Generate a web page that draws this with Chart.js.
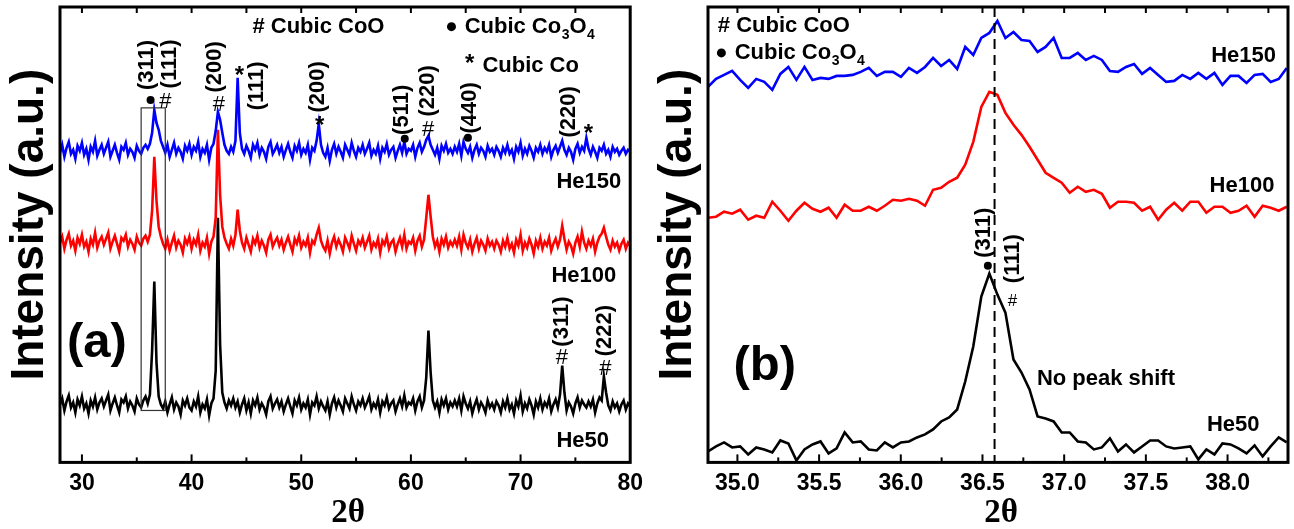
<!DOCTYPE html>
<html>
<head>
<meta charset="utf-8">
<script src="https://cdn.jsdelivr.net/npm/chart.js@4.4.0/dist/chart.umd.min.js"></script>
<style>
  body { margin: 0; background: #fff; width: 1294px; height: 529px; position: relative; overflow: hidden; }
  canvas { position: absolute; top: 0; }
  #chartA { left: 0; }
  #chartB { left: 650px; }
</style>
</head>
<body>
<canvas id="chartA" width="650" height="529"></canvas>
<canvas id="chartB" width="644" height="529"></canvas>
<script>
const FONT = "'Liberation Sans', Arial, sans-serif";

// ---- panel (a): 2theta 28..80, sampled every 0.2 deg (stacked, arbitrary units)
const startA = 28.0, stepA = 0.2;
const he150A = [
  310,318,306,315,321,309,313,304,317,312,320,308,314,303,316,311,322,307,313,318,
  309,315,321,306,312,318,310,303,316,313,320,308,314,311,305,317,312,309,315,318,
  314,319,330,353,340,333,322,316,310,318,306,313,320,309,315,311,304,317,312,319,
  308,316,312,321,306,314,310,318,303,315,319,332,351,343,330,318,312,309,316,311,
  322,385,330,314,309,317,312,305,318,313,320,308,315,311,304,316,321,309,313,318,
  310,316,306,313,319,311,305,317,312,320,308,314,310,318,303,315,312,322,339,318,
  310,306,315,302,313,319,309,316,311,305,318,313,308,320,312,306,315,311,318,309,
  314,320,307,313,309,317,304,315,311,319,308,313,316,305,312,318,310,321,309,314,
  312,318,306,315,320,311,316,323,327,318,313,308,315,304,317,312,319,310,314,309,
  316,311,319,307,321,314,310,316,305,313,318,309,315,312,306,317,311,314,308,316,
  312,306,315,310,318,309,313,304,316,311,320,307,314,309,317,312,305,315,311,318,
  309,315,311,318,306,313,317,310,316,322,313,308,315,311,303,314,319,310,316,312,
  325,314,308,316,311,305,315,312,318,309,313,306,316,311,314,308,312,315,309,313,
  311
];
const he100A = [
  220,226,214,223,229,217,222,212,225,219,228,216,221,211,224,218,230,215,222,226,
  218,224,230,214,221,227,219,211,225,222,228,216,223,219,213,226,220,217,224,227,
  221,228,252,306,262,236,226,219,214,223,212,220,227,215,222,218,210,224,219,226,
  214,223,218,228,212,220,216,225,209,221,226,245,333,268,236,225,219,214,224,217,
  228,253,232,220,214,225,218,211,224,219,227,215,222,217,210,223,228,216,221,225,
  217,223,213,220,226,218,211,224,219,227,215,221,217,225,210,222,219,228,235,222,
  216,212,222,209,220,226,216,223,218,211,225,220,214,227,219,212,222,218,225,215,
  221,227,213,220,216,224,210,222,218,226,214,220,223,211,219,225,216,228,214,221,
  219,225,212,222,227,216,223,245,268,246,226,216,222,211,224,218,226,215,221,217,
  223,217,226,213,228,220,215,223,211,219,225,214,222,218,212,224,217,221,214,222,
  218,211,222,216,225,214,219,210,223,217,228,212,220,215,224,218,209,222,216,225,
  214,221,217,225,212,219,224,216,223,237,224,213,221,217,209,220,226,216,231,220,
  214,222,217,224,211,220,226,229,235,226,218,213,222,216,220,212,219,223,214,220,
  217
];
const he50A = [
  58,64,52,61,67,55,60,50,63,57,66,54,59,49,62,56,65,53,60,64,
  56,62,68,52,59,65,57,50,63,60,66,54,61,57,51,64,58,55,62,66,
  59,68,112,181,100,66,58,54,61,50,58,65,53,60,56,48,62,57,64,55,
  52,61,56,66,50,58,54,63,47,59,64,92,245,118,70,60,54,62,57,64,
  55,61,50,58,64,52,60,49,62,57,65,53,59,55,48,61,66,54,59,63,
  55,61,51,58,64,56,49,62,57,65,53,59,55,63,48,60,57,66,54,61,
  56,52,61,48,59,65,55,62,57,51,64,59,54,66,58,52,61,57,64,55,
  60,66,53,59,55,63,50,61,57,65,54,59,62,51,58,64,56,67,55,60,
  58,64,52,61,66,55,62,85,132,90,62,55,61,50,63,57,64,53,60,56,
  62,56,64,52,66,59,54,61,49,57,63,53,60,56,50,62,55,59,53,61,
  57,50,61,55,64,53,58,49,62,56,67,51,59,54,63,57,48,61,55,64,
  53,60,56,64,51,58,63,55,68,97,70,52,60,56,49,59,65,55,62,58,
  55,61,56,63,50,59,65,62,86,70,57,52,61,55,59,51,58,62,53,59,
  56
];
const ticksA = [30, 40, 50, 60, 70, 80];
const minorTicksA = [35, 45, 55, 65, 75];

// ---- panel (b): zoom on the (311)/(111) peak
const startB = 34.82, stepB = 0.0492;
const he150B = [
  376,384,388,392,383,375,384,381,373,389,396,383,396,383,385,384,387,387,388,391,
  395,387,391,391,386,395,390,396,405,397,403,394,416,408,425,430,442,
  425,431,423,422,411,416,425,405,405,410,403,407,403,392,391,396,399,389,395,388,
  381,382,388,384,390,384,390,378,387,387,380,388,389,381,384,395
];
const he100B = [
  245,246,251,249,253,243,247,245,261,252,242,252,260,254,251,255,245,258,252,252,
  256,252,257,263,262,264,262,257,273,275,281,285,298,321,356,371,368,
  350,338,328,316,303,290,285,280,270,276,271,273,269,255,261,261,260,252,256,243,
  253,260,252,261,261,250,256,256,250,252,257,246,257,255,252,256
];
const he50B = [
  11,16,20,15,16,8,15,13,10,22,19,2,13,18,21,9,14,30,20,21,
  13,12,20,15,20,21,25,28,33,41,45,53,81,116,166,189,168,150,103,90,
  73,46,44,41,30,30,21,20,13,15,24,11,18,10,16,22,22,16,14,15,
  16,3,13,8,19,18,14,9,17,6,16,25,20
];
const ticksB = [35.0, 35.5, 36.0, 36.5, 37.0, 37.5, 38.0];
const minorTicksB = [35.25, 35.75, 36.25, 36.75, 37.25, 37.75, 38.25];
const peakLineB = 36.574;

const seriesNames = ['He150', 'He100', 'He50'];
const seriesColors = ['#0000ff', '#ff0000', '#000000'];

function toPoints(vals, start, step) {
  return vals.map((v, i) => ({ x: +(start + step * i).toFixed(4), y: v }));
}

// ---- annotations (data coordinates)
const annA = {
  rot: [['(311)', 35.93, 398], ['(111)', 38.06, 399], ['(200)', 42.12, 396], ['(111)', 46.02, 377],
        ['(200)', 51.58, 376], ['(511)', 59.23, 353], ['(220)', 61.6, 372], ['(440)', 65.39, 355],
        ['(220)', 74.4, 351], ['(311)', 73.77, 141], ['(222)', 77.73, 132]],
  hash: [[37.61, 363], [42.48, 360], [61.58, 335], [73.77, 106], [77.73, 95]],
  star: [[44.37, 393], [51.67, 343], [76.2, 335]],
  dot: [[36.26, 363], [59.44, 324], [65.2, 325]],
  text: [['He150', 73.27, 275, 22], ['He100', 72.82, 181, 22], ['He50', 73.27, 15, 22],
         ['(a)', 28.63, 106, 49], ['# Cubic CoO', 45.55, 430, 22], ['Cubic Co', 66.52, 391, 22]],
  co3o4: [[63.7, 436.3], [64.9, 430]],
  starLegend: [65.35, 405],
  box: [35.4, 37.6, 52, 355]
};
const annB = {
  rot: [['(311)', 36.514, 230], ['(111)', 36.686, 204]],
  hash: [[36.683, 163]],
  star: [],
  dot: [[36.533, 197]],
  text: [['He150', 37.9, 401, 22], ['He100', 37.89, 271, 22], ['He50', 37.874, 31, 22],
         ['(b)', 34.976, 83, 49], ['No peak shift', 36.833, 78, 22], ['# Cubic CoO', 34.88, 431, 22]],
  co3o4: [[34.902, 410], [34.983, 404]],
  starLegend: null,
  box: null
};

const decorPlugin = {
  id: 'decor',
  afterDatasetsDraw(chart, args, opts) {
    const { ctx, chartArea: a, scales: { x, y } } = chart;
    const px = v => x.getPixelForValue(v);
    const py = v => y.getPixelForValue(v);
    ctx.save();
    ctx.fillStyle = '#000';
    ctx.strokeStyle = '#000';

    if (opts.ann.box) {
      const [x0, x1, y0, y1] = opts.ann.box;
      ctx.lineWidth = 1.2;
      ctx.strokeStyle = '#333';
      ctx.strokeRect(px(x0), py(y1), px(x1) - px(x0), py(y0) - py(y1));
      ctx.strokeStyle = '#000';
    }
    if (opts.dashX != null) {
      ctx.lineWidth = 2;
      ctx.setLineDash([10, 6]);
      ctx.beginPath();
      ctx.moveTo(px(opts.dashX), a.top);
      ctx.lineTo(px(opts.dashX), a.bottom);
      ctx.stroke();
      ctx.setLineDash([]);
    }

    // frame + inward ticks
    ctx.lineWidth = 3;
    ctx.strokeRect(a.left, a.top, a.width, a.height);
    ctx.lineWidth = 2;
    const tick = (v, len, top) => {
      const X = px(v);
      if (X < a.left + 2 || X > a.right - 2) return;
      ctx.beginPath();
      if (top) { ctx.moveTo(X, a.top); ctx.lineTo(X, a.top + len); }
      else { ctx.moveTo(X, a.bottom); ctx.lineTo(X, a.bottom - len); }
      ctx.stroke();
    };
    opts.major.forEach(v => { tick(v, 8, false); tick(v, 6, true); });
    opts.minor.forEach(v => { tick(v, 5, false); tick(v, 6, true); });

    const ann = opts.ann;
    // rotated peak labels
    ann.rot.forEach(([t, xv, yv]) => {
      ctx.save();
      ctx.translate(px(xv), py(yv));
      ctx.rotate(-Math.PI / 2);
      ctx.font = 'bold 22px ' + FONT;
      ctx.textAlign = 'center';
      ctx.textBaseline = 'alphabetic';
      ctx.fillText(t, 0, 0.26 * 22);
      ctx.restore();
    });
    ctx.textAlign = 'center';
    ctx.textBaseline = 'alphabetic';
    ann.hash.forEach(([xv, yv]) => {
      const s = opts.hashSize;
      ctx.font = s + 'px ' + FONT;
      ctx.fillText('#', px(xv), py(yv) + 0.36 * s);
    });
    ann.star.forEach(([xv, yv]) => {
      ctx.font = 'bold 24px ' + FONT;
      ctx.fillText('*', px(xv), py(yv) + 0.55 * 24);
    });
    ann.dot.forEach(([xv, yv]) => {
      ctx.beginPath();
      ctx.arc(px(xv), py(yv), 4, 0, Math.PI * 2);
      ctx.fill();
    });
    ctx.textAlign = 'left';
    ann.text.forEach(([t, xv, yv, s]) => {
      ctx.font = 'bold ' + s + 'px ' + FONT;
      ctx.fillText(t, px(xv), py(yv));
    });
    // Co3O4 legend line
    const [[dx, dy], [tx, ty]] = ann.co3o4;
    ctx.beginPath();
    ctx.arc(px(dx), py(dy), 4.5, 0, Math.PI * 2);
    ctx.fill();
    let cx = px(tx);
    const by = py(ty);
    [['Cubic Co', false], ['3', true], ['O', false], ['4', true]].forEach(([t, sub]) => {
      ctx.font = 'bold ' + (sub ? 14 : 22) + 'px ' + FONT;
      ctx.fillText(t, cx, sub ? by + 6 : by);
      cx += ctx.measureText(t).width + (sub ? 0 : 0.5);
    });
    if (ann.starLegend) {
      ctx.textAlign = 'center';
      ctx.font = 'bold 24px ' + FONT;
      ctx.fillText('*', px(ann.starLegend[0]), py(ann.starLegend[1]) + 0.55 * 24);
    }

    // axis titles
    ctx.textAlign = 'center';
    ctx.font = 'bold 46px ' + FONT;
    ctx.save();
    ctx.translate(a.left - 17, a.top + a.height / 2 - 10);
    ctx.rotate(-Math.PI / 2);
    ctx.fillText('Intensity (a.u.)', 0, 0);
    ctx.restore();
    ctx.font = 'bold 33px "Liberation Serif", "DejaVu Serif", serif';
    ctx.fillText('2\u03b8', (a.left + a.right) / 2 + 3, 522);
    ctx.restore();
  }
};

function makeChart(id, vals, start, step, xmin, xmax, major, minor, ann, padL, padR, extra) {
  new Chart(document.getElementById(id), {
    type: 'line',
    data: {
      datasets: vals.map((v, i) => ({
        label: seriesNames[i],
        data: toPoints(v, start, step),
        borderColor: seriesColors[i],
        borderWidth: 2.6,
        pointRadius: 0,
        tension: 0
      }))
    },
    options: {
      responsive: false,
      animation: false,
      layout: { padding: { left: padL, right: padR, top: 7, bottom: 25 } },
      plugins: {
        legend: { display: false },
        tooltip: { enabled: false },
        decor: Object.assign({ major: major, minor: minor, ann: ann }, extra)
      },
      scales: {
        x: {
          type: 'linear',
          min: xmin,
          max: xmax,
          afterBuildTicks: s => { s.ticks = major.map(v => ({ value: v })); },
          grid: { display: false, drawTicks: false },
          border: { display: false },
          ticks: {
            padding: 7,
            color: '#000',
            maxRotation: 0,
            autoSkip: false,
            font: { family: FONT, size: 23, weight: 'bold' },
            callback: v => extra.decimals ? Number(v).toFixed(1) : v
          }
        },
        y: { display: false, min: 0, max: 456 }
      }
    },
    plugins: [decorPlugin]
  });
}

makeChart('chartA', [he150A, he100A, he50A], startA, stepA, 28, 80, ticksA, minorTicksA, annA, 60, 13,
  { hashSize: 22, dashX: null, decimals: false });
makeChart('chartB', [he150B, he100B, he50B], startB, stepB, 34.82, 38.37, ticksB, minorTicksB, annB, 58, 6,
  { hashSize: 17, dashX: peakLineB, decimals: true });
</script>
</body>
</html>
